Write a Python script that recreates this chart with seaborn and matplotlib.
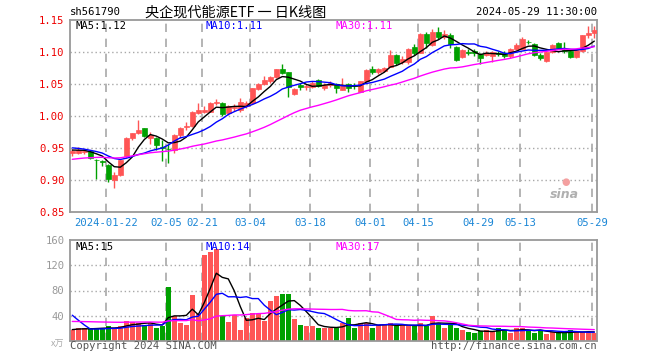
import matplotlib
matplotlib.use("Agg")
import matplotlib.pyplot as plt
import numpy as np
import pandas as pd
import seaborn as sns

# ---- data (561790, daily, 2024) ----
dates = [
    "01-12", "01-15", "01-16", "01-17", "01-18", "01-19",
    "01-22", "01-23", "01-24", "01-25", "01-26",
    "01-29", "01-30", "01-31", "02-01", "02-02",
    "02-05", "02-06", "02-07", "02-08",
    "02-19", "02-20", "02-21", "02-22", "02-23",
    "02-26", "02-27", "02-28", "02-29", "03-01",
    "03-04", "03-05", "03-06", "03-07", "03-08",
    "03-11", "03-12", "03-13", "03-14", "03-15",
    "03-18", "03-19", "03-20", "03-21", "03-22",
    "03-25", "03-26", "03-27", "03-28", "03-29",
    "04-01", "04-02", "04-03",
    "04-08", "04-09", "04-10", "04-11", "04-12",
    "04-15", "04-16", "04-17", "04-18", "04-19",
    "04-22", "04-23", "04-24", "04-25", "04-26",
    "04-29", "04-30",
    "05-06", "05-07", "05-08", "05-09", "05-10",
    "05-13", "05-14", "05-15", "05-16", "05-17",
    "05-20", "05-21", "05-22", "05-23", "05-24",
    "05-27", "05-28", "05-29",
]
open_ = [
    0.942, 0.942, 0.944, 0.946, 0.932, 0.929, 0.923, 0.900, 0.908, 0.937,
    0.966, 0.973, 0.981, 0.965, 0.966, 0.952, 0.949, 0.947, 0.970, 0.983,
    0.984, 1.005, 1.006, 1.007, 1.021, 1.021, 1.004, 1.012, 1.009, 1.015,
    1.020, 1.042, 1.050, 1.054, 1.061, 1.074, 1.068, 1.035, 1.048, 1.045,
    1.045, 1.056, 1.044, 1.048, 1.050, 1.041, 1.050, 1.048, 1.038, 1.054,
    1.074, 1.068, 1.071, 1.077, 1.095, 1.084, 1.084, 1.108, 1.099, 1.128,
    1.111, 1.131, 1.123, 1.127, 1.108, 1.092, 1.100, 1.101, 1.097, 1.095,
    1.093, 1.099, 1.099, 1.093, 1.105, 1.105, 1.116, 1.113, 1.096, 1.086,
    1.100, 1.114, 1.103, 1.101, 1.092, 1.101, 1.127, 1.129,
]
high = [
    0.948, 0.951, 0.948, 0.947, 0.933, 0.932, 0.925, 0.913, 0.932, 0.967,
    0.974, 0.994, 0.982, 0.975, 0.967, 0.962, 0.957, 0.972, 0.983, 0.991,
    1.008, 1.021, 1.015, 1.022, 1.026, 1.022, 1.017, 1.018, 1.028, 1.024,
    1.044, 1.052, 1.062, 1.063, 1.074, 1.082, 1.069, 1.044, 1.052, 1.050,
    1.054, 1.058, 1.052, 1.055, 1.052, 1.059, 1.052, 1.051, 1.055, 1.073,
    1.078, 1.075, 1.076, 1.103, 1.097, 1.093, 1.107, 1.112, 1.130, 1.131,
    1.136, 1.139, 1.134, 1.129, 1.109, 1.104, 1.104, 1.105, 1.098, 1.101,
    1.102, 1.102, 1.101, 1.106, 1.114, 1.124, 1.119, 1.114, 1.098, 1.101,
    1.113, 1.116, 1.115, 1.103, 1.104, 1.127, 1.140, 1.141,
]
low = [
    0.937, 0.940, 0.941, 0.933, 0.902, 0.922, 0.897, 0.888, 0.906, 0.935,
    0.962, 0.972, 0.967, 0.957, 0.947, 0.929, 0.926, 0.942, 0.966, 0.978,
    0.983, 1.003, 1.004, 1.006, 1.017, 1.000, 1.002, 1.008, 1.007, 1.013,
    1.019, 1.040, 1.048, 1.052, 1.060, 1.066, 1.030, 1.033, 1.040, 1.040,
    1.043, 1.045, 1.040, 1.046, 1.036, 1.040, 1.038, 1.042, 1.037, 1.053,
    1.065, 1.066, 1.068, 1.076, 1.080, 1.082, 1.082, 1.096, 1.098, 1.107,
    1.109, 1.120, 1.120, 1.106, 1.086, 1.091, 1.095, 1.094, 1.082, 1.093,
    1.085, 1.094, 1.091, 1.091, 1.103, 1.104, 1.112, 1.093, 1.087, 1.084,
    1.099, 1.104, 1.098, 1.091, 1.091, 1.100, 1.122, 1.122,
]
close = [
    0.946, 0.947, 0.946, 0.935, 0.931, 0.928, 0.902, 0.908, 0.931, 0.966,
    0.973, 0.978, 0.968, 0.970, 0.954, 0.950, 0.948, 0.970, 0.982, 0.985,
    1.007, 1.010, 1.009, 1.021, 1.022, 1.003, 1.015, 1.014, 1.022, 1.020,
    1.043, 1.050, 1.057, 1.061, 1.073, 1.067, 1.045, 1.042, 1.046, 1.047,
    1.052, 1.047, 1.049, 1.052, 1.043, 1.049, 1.043, 1.047, 1.054, 1.072,
    1.068, 1.073, 1.075, 1.095, 1.083, 1.089, 1.105, 1.098, 1.128, 1.114,
    1.131, 1.124, 1.128, 1.112, 1.088, 1.103, 1.099, 1.099, 1.091, 1.099,
    1.100, 1.097, 1.093, 1.105, 1.111, 1.121, 1.115, 1.095, 1.090, 1.100,
    1.111, 1.106, 1.102, 1.092, 1.103, 1.126, 1.130, 1.134,
]
# volume in 万手
volume = [
    17.5, 21, 20, 20, 20, 20, 23, 20, 24, 32,
    30, 28, 26, 28, 21, 24, 86, 40, 28, 25,
    73, 42, 136, 141, 145, 40, 30, 41, 17, 36,
    44, 42, 31, 64, 72, 75, 74, 35, 26, 23,
    24, 21, 21, 20, 21, 29, 37, 21, 29, 29,
    21, 25, 25, 29, 23, 25, 23, 23, 29, 23,
    40, 28, 21, 28, 20, 17, 14, 12, 16, 18,
    15, 20, 18, 12, 20, 20, 18, 12, 17, 11,
    14, 12, 13, 18, 14, 14, 14, 12,
]
# sessions before the visible window, only used to warm up the moving averages
prior_close = [
    0.915, 0.918, 0.920, 0.917, 0.921, 0.924, 0.922, 0.919, 0.923, 0.926,
    0.925, 0.922, 0.924, 0.927, 0.925, 0.923, 0.926, 0.928, 0.930, 0.933,
    0.955, 0.958, 0.953, 0.950, 0.952, 0.948, 0.947, 0.946, 0.947,
]
prior_volume = [
    24, 26, 25, 27, 26, 28, 25, 27, 26, 27,
    26, 25, 27, 26, 28, 25, 27, 26, 25, 25,
    100, 95, 85, 20, 18, 17, 18, 20, 18,
]

tick_dates = ["01-22", "02-05", "02-21", "03-04", "03-18",
              "04-01", "04-15", "04-29", "05-13", "05-29"]
tick_labels = ["2024-01-22", "02-05", "02-21", "03-04", "03-18",
               "04-01", "04-15", "04-29", "05-13", "05-29"]
price_ticks = [0.85, 0.90, 0.95, 1.00, 1.05, 1.10, 1.15]
vol_ticks = [40, 80, 120, 160]

RED = "#ff5555"
GREEN = "#00a000"
GRID = "#a8a8a8"
MONO = "DejaVu Sans Mono"
W, H = 660, 360


def ma(prior, values, n):
    s = pd.Series(list(prior) + list(values)).rolling(n).mean()
    return s.iloc[len(prior):].to_numpy()


sns.set_theme(style="white")
plt.rcParams["font.family"] = [MONO, "Noto Sans CJK SC"]

x = np.arange(len(dates))
o, h, l, c = map(np.array, (open_, high, low, close))
up = c >= o
colors = np.where(up, RED, GREEN)
tick_pos = [dates.index(d) - 0.33 for d in tick_dates]
xlim = (-0.38, 87.45)

fig = plt.figure(figsize=(W / 100, H / 100), dpi=100)
ax = fig.add_axes([70 / W, 1 - 212 / H, 527 / W, 192 / H])
axv = fig.add_axes([70 / W, 1 - 341 / H, 527 / W, 101 / H])

# ---- price panel ----
for t in price_ticks[1:-1]:
    ax.axhline(t, color=GRID, lw=1, ls=(0, (1, 2)), zorder=0)
for p in tick_pos:
    ax.axvline(p, color=GRID, lw=1.2, ls=(0, (5, 4)), zorder=0)

ax.vlines(x, l, h, colors=colors, lw=1, zorder=2)
body = np.maximum(np.abs(c - o), 0.0008)
ax.bar(x, body, bottom=np.minimum(o, c), width=0.8, color=colors,
       edgecolor=colors, linewidth=0.5, zorder=3)

for n, col in ((5, "black"), (10, "#0000ff"), (30, "#ff00ff")):
    sns.lineplot(x=x, y=ma(prior_close, close, n), ax=ax, color=col,
                 lw=1, zorder=4)

ax.set_xlim(*xlim)
ax.set_ylim(0.85, 1.15)
ax.set_yticks(price_ticks)
ax.set_yticklabels([f"{t:.2f}" for t in price_ticks], color="#ee0000",
                   fontsize=7.6)
ax.set_xticks(tick_pos)
ax.set_xticklabels(tick_labels, color="#1a86d6", fontsize=7.6)
ax.tick_params(length=0, pad=4)
ax.set_xlabel("")
ax.set_ylabel("")

ax.text(75 / W, 1 - 26 / H, "MA5:1.12", transform=fig.transFigure,
        color="black", fontsize=7.6, va="center")
ax.text(205 / W, 1 - 26 / H, "MA10:1.11", transform=fig.transFigure,
        color="#0000ff", fontsize=7.6, va="center")
ax.text(335 / W, 1 - 26 / H, "MA30:1.11", transform=fig.transFigure,
        color="#ff00ff", fontsize=7.6, va="center")
ax.text(0.965, 0.075, "sina", transform=ax.transAxes, color="#b0b0b0",
        fontsize=9, fontweight="bold", style="italic", ha="right",
        family="DejaVu Sans")
ax.text(0.94, 0.14, "●", transform=ax.transAxes, color="#f4a0a0",
        fontsize=7, ha="center", family="DejaVu Sans")

# ---- volume panel ----
for t in vol_ticks[:-1]:
    axv.axhline(t, color=GRID, lw=1, ls=(0, (1, 2)), zorder=0)
for p in tick_pos:
    axv.axvline(p, color=GRID, lw=1.2, ls=(0, (5, 4)), zorder=0)

axv.bar(x, volume, width=0.83, color=colors, linewidth=0, zorder=2)
for n, col in ((5, "black"), (10, "#0000ff"), (30, "#ff00ff")):
    sns.lineplot(x=x, y=ma(prior_volume, volume, n), ax=axv, color=col,
                 lw=1, zorder=4)

axv.set_xlim(*xlim)
axv.set_ylim(0, 160)
axv.set_yticks(vol_ticks)
axv.set_yticklabels([str(t) for t in vol_ticks], color="#999999",
                    fontsize=7.6)
axv.set_xticks([])
axv.tick_params(length=0, pad=4)
axv.set_xlabel("")
axv.set_ylabel("")

axv.text(75 / W, 1 - 247 / H, "MA5:15", transform=fig.transFigure,
         color="black", fontsize=7.6, va="center")
axv.text(205 / W, 1 - 247 / H, "MA10:14", transform=fig.transFigure,
         color="#0000ff", fontsize=7.6, va="center")
axv.text(335 / W, 1 - 247 / H, "MA30:17", transform=fig.transFigure,
         color="#ff00ff", fontsize=7.6, va="center")

for a in (ax, axv):
    for s in a.spines.values():
        s.set_color("#999999")
        s.set_linewidth(1.3)
        s.set_visible(True)

# ---- header / footer ----
fig.text(70 / W, 1 - 12 / H, "sh561790", color="black", fontsize=7.6,
         va="center")
fig.text(236 / W, 1 - 13 / H, "央企现代能源ETF 一 日K线图", color="black",
         fontsize=10.2, va="center", ha="center",
         family=["Noto Sans CJK SC", "DejaVu Sans"])
fig.text(597 / W, 1 - 12 / H, "2024-05-29 11:30:00", color="black",
         fontsize=7.6, va="center", ha="right")
fig.text(64 / W, 1 - 344 / H, "x万", color="#aaaaaa", fontsize=6.5,
         va="center", ha="right", style="italic",
         family=["Noto Sans CJK SC", "DejaVu Sans"])
fig.text(70 / W, 1 - 346 / H, "Copyright 2024 SINA.COM", color="#555555",
         fontsize=7.6, va="center")
fig.text(597 / W, 1 - 346 / H, "http://finance.sina.com.cn",
         color="#555555", fontsize=7.6, va="center", ha="right")

fig.savefig("out.png", dpi=100, facecolor="white")
